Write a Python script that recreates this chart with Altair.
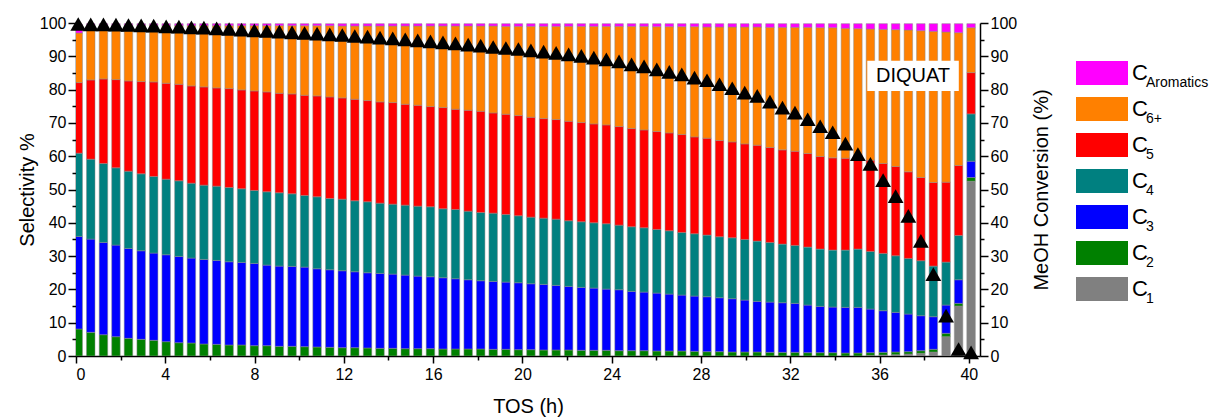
import altair as alt
import pandas as pd

FONT = "Liberation Sans"

# Time on stream of each sample (h)
tos_h = [0.10, 0.66, 1.23, 1.79, 2.35, 2.92, 3.48, 4.04, 4.61, 5.17, 5.73, 6.30,
         6.86, 7.42, 7.99, 8.55, 9.11, 9.68, 10.24, 10.80, 11.37, 11.93, 12.49, 13.06,
         13.62, 14.19, 14.75, 15.31, 15.88, 16.44, 17.00, 17.57, 18.13, 18.69, 19.26, 19.82,
         20.38, 20.95, 21.51, 22.07, 22.64, 23.20, 23.76, 24.33, 24.89, 25.45, 26.02, 26.58,
         27.14, 27.71, 28.27, 28.83, 29.40, 29.96, 30.52, 31.09, 31.65, 32.21, 32.78, 33.34,
         33.90, 34.47, 35.03, 35.59, 36.16, 36.72, 37.29, 37.85, 38.41, 38.98, 39.54, 40.10]

sel_c1 = [0, 0, 0, 0, 0, 0, 0, 0, 0, 0, 0, 0,
          0, 0, 0, 0, 0, 0, 0, 0, 0, 0, 0, 0, 0,
          0, 0, 0, 0, 0, 0, 0, 0, 0, 0, 0, 0,
          0, 0, 0, 0, 0, 0, 0, 0, 0, 0, 0, 0, 0,
          0, 0, 0, 0, 0, 0, 0, 0, 0, 0, 0,
          0, 0, 0.2, 0.3, 0.4, 0.6, 0.8, 1.2, 5.8, 15.0, 52.5]

sel_c2 = [8.1, 7.1, 6.4, 5.8, 5.3, 5.0, 4.7, 4.3, 4.0, 3.9, 3.6, 3.5,
          3.3, 3.3, 3.1, 3.1, 2.9, 2.9, 2.8, 2.7, 2.6, 2.5, 2.5, 2.4, 2.3,
          2.3, 2.2, 2.2, 2.2, 2.1, 2.1, 2.1, 2.1, 2.0, 2.0, 1.9, 1.9,
          1.8, 1.8, 1.8, 1.7, 1.7, 1.7, 1.6, 1.6, 1.6, 1.5, 1.5, 1.5, 1.4,
          1.3, 1.3, 1.2, 1.2, 1.2, 1.1, 1.1, 1.1, 1.0, 1.0, 1.0,
          0.9, 0.9, 0.8, 0.8, 0.8, 0.7, 0.8, 0.8, 1.0, 0.8, 1.1]

sel_c3 = [27.8, 28.0, 27.7, 27.5, 27.0, 26.6, 26.2, 26.1, 25.9, 25.5, 25.4, 25.2,
          25.0, 24.8, 24.7, 24.2, 24.1, 24.0, 23.9, 23.5, 23.3, 23.1, 22.8, 22.6, 22.5,
          22.3, 22.1, 21.8, 21.6, 21.4, 21.1, 20.8, 20.5, 20.4, 20.2, 20.1, 19.8,
          19.7, 19.4, 19.1, 18.9, 18.7, 18.4, 18.3, 17.8, 17.6, 17.4, 17.1, 16.8, 16.6,
          16.5, 16.2, 16.0, 15.6, 15.2, 15.1, 14.9, 14.7, 14.3, 13.9, 13.7,
          13.7, 13.7, 13.1, 12.5, 11.9, 11.3, 10.5, 9.8, 8.5, 7.1, 4.9]

sel_c4 = [25.0, 24.0, 23.7, 23.2, 23.2, 23.1, 23.0, 22.7, 22.7, 22.5, 22.3, 22.3,
          22.3, 22.1, 21.9, 22.0, 22.0, 21.8, 21.5, 21.6, 21.4, 21.5, 21.3, 21.3, 21.1,
          21.0, 21.0, 21.0, 21.0, 20.7, 20.8, 20.6, 20.5, 20.5, 20.3, 20.1, 20.0,
          19.9, 19.9, 19.7, 19.7, 19.6, 19.6, 19.4, 19.4, 19.3, 19.1, 19.0, 18.8, 18.7,
          18.5, 18.3, 18.3, 18.2, 18.1, 17.9, 17.6, 17.4, 17.4, 17.2, 17.1,
          17.2, 17.5, 17.3, 17.2, 17.0, 16.7, 16.5, 15.2, 12.9, 13.3, 14.2]

sel_c5 = [21.2, 23.8, 25.4, 26.5, 27.1, 27.7, 28.4, 28.8, 29.0, 29.2, 29.5, 29.5,
          29.7, 29.7, 29.9, 30.0, 29.9, 30.0, 30.1, 30.3, 30.5, 30.4, 30.5, 30.4, 30.4,
          30.5, 30.3, 30.3, 30.1, 30.4, 30.1, 30.3, 30.4, 30.1, 30.1, 30.1, 30.0,
          29.9, 29.9, 29.9, 29.8, 29.7, 29.7, 29.6, 29.5, 29.4, 29.4, 29.4, 29.4, 29.1,
          29.1, 28.9, 28.8, 28.7, 28.8, 28.5, 28.3, 28.3, 28.1, 27.8, 27.7,
          27.6, 28.3, 27.4, 27.0, 26.8, 26.0, 25.0, 25.1, 24.0, 21.0, 12.4]

sel_c6 = [14.9, 16.3, 16.0, 16.2, 16.6, 16.8, 16.9, 17.3, 17.6, 18.1, 18.4, 18.7,
          18.9, 19.3, 19.6, 19.9, 20.3, 20.5, 20.9, 21.1, 21.4, 21.6, 22.0, 22.4, 22.8,
          23.0, 23.5, 23.8, 24.2, 24.5, 25.0, 25.3, 25.6, 26.1, 26.4, 26.8, 27.3,
          27.7, 28.0, 28.5, 28.9, 29.3, 29.6, 30.1, 30.7, 31.1, 31.5, 31.9, 32.4, 33.1,
          33.4, 34.1, 34.5, 35.1, 35.5, 36.1, 36.8, 37.2, 37.9, 38.7, 39.1,
          39.0, 37.9, 39.4, 40.3, 41.1, 42.6, 44.1, 45.4, 45.1, 39.9, 13.5]

sel_arom = [2.6, 0.6, 0.6, 0.6, 0.6, 0.6, 0.6, 0.6, 0.6, 0.6, 0.6, 0.6,
            0.6, 0.6, 0.6, 0.6, 0.6, 0.6, 0.6, 0.6, 0.6, 0.7, 0.7, 0.7, 0.7,
            0.7, 0.7, 0.7, 0.7, 0.7, 0.7, 0.7, 0.7, 0.7, 0.8, 0.8, 0.8,
            0.8, 0.8, 0.8, 0.8, 0.8, 0.8, 0.8, 0.8, 0.8, 0.9, 0.9, 0.9, 0.9,
            1.0, 1.0, 1.0, 1.0, 1.0, 1.1, 1.1, 1.1, 1.1, 1.2, 1.2,
            1.4, 1.5, 1.6, 1.7, 1.8, 1.9, 2.1, 2.3, 2.5, 2.7, 1.2]

meoh_conversion = [99.7, 99.6, 99.6, 99.5, 99.4, 99.3, 99.2, 99.0, 98.9, 98.7, 98.6,
                   98.4, 98.2, 98.0, 97.8, 97.6, 97.4, 97.2, 97.0, 96.8, 96.6,
                   96.4, 96.1, 95.9, 95.6, 95.4, 95.1, 94.8, 94.5, 94.2, 93.9,
                   93.5, 93.2, 92.8, 92.5, 92.2, 91.8, 91.4, 91.0, 90.6, 90.1, 89.6,
                   89.1, 88.5, 87.6, 87.0, 86.1, 85.3, 84.6, 83.6, 82.8, 81.6,
                   80.4, 79.1, 78.1, 76.4, 74.6, 73.1, 71.1, 69.0, 67.2, 63.8,
                   60.6, 57.7, 52.8, 48.0, 42.1, 34.6, 24.6, 12.1, 2.1, 1.1]

components = ["C1", "C2", "C3", "C4", "C5", "C6+", "CAromatics"]
colors = ["#808080", "#008000", "#0000FF", "#008080", "#FF0000", "#FF8000", "#FF00FF"]
series = [sel_c1, sel_c2, sel_c3, sel_c4, sel_c5, sel_c6, sel_arom]

legend_keys = ["CAromatics", "C6+", "C5", "C4", "C3", "C2", "C1"]
legend_sub = ["Aromatics", "6+", "5", "4", "3", "2", "1"]

annot_box_t = [35.45, 39.55]
annot_box_v = [79.6, 88.7]
annot_text_pos = [37.5, 84.1]

rows = []
for i, t in enumerate(tos_h):
    for k, name in enumerate(components):
        rows.append({"t": t, "comp": name, "value": series[k][i], "ord": k})
df = pd.DataFrame(rows)
conv_df = pd.DataFrame({"t": tos_h, "conv": meoh_conversion})
box_df = pd.DataFrame({"x0": [annot_box_t[0]], "x1": [annot_box_t[1]],
                       "y0": [annot_box_v[0]], "y1": [annot_box_v[1]]})
txt_df = pd.DataFrame({"x": [annot_text_pos[0]], "y": [annot_text_pos[1]], "label": ["DIQUAT"]})
leg_df = pd.DataFrame({"key": legend_keys, "main": ["C"] * 7, "sub": legend_sub})

x_scale = alt.Scale(domain=[0, 40.5], nice=False, zero=False, padding=0)
y_scale = alt.Scale(domain=[0, 100], nice=False, padding=0)

x_axis = alt.Axis(values=list(range(0, 41, 2)),
                  labelExpr="datum.value % 4 === 0 ? datum.label : ''",
                  tickSize={"condition": {"test": "datum.value % 4 === 0", "value": 7}, "value": 4},
                  title="TOS (h)", grid=False, labelPadding=3, titlePadding=14)
y_left = alt.Axis(values=list(range(0, 101, 5)),
                  labelExpr="datum.value % 10 === 0 ? datum.label : ''",
                  tickSize={"condition": {"test": "datum.value % 10 === 0", "value": 8}, "value": 4},
                  title="Selectivity %", grid=False, labelPadding=2, titlePadding=2)
y_right = alt.Axis(values=list(range(0, 101, 5)), orient="right",
                   labelExpr="datum.value % 10 === 0 ? datum.label : ''",
                   tickSize={"condition": {"test": "datum.value % 10 === 0", "value": 8}, "value": 4},
                   title="MeOH Conversion (%)", titleAngle=270, titleBaseline="top", grid=False,
                   labelPadding=2, titlePadding=15)

bars = alt.Chart(df).mark_bar(width=8.5, clip=True, stroke="#8a8a8a", strokeWidth=0.5).encode(
    x=alt.X("t:Q", scale=x_scale, axis=x_axis),
    y=alt.Y("value:Q", stack="zero", scale=y_scale, axis=y_left),
    color=alt.Color("comp:N", scale=alt.Scale(domain=components, range=colors), legend=None),
    order=alt.Order("ord:Q", sort="ascending"),
)
box = alt.Chart(box_df).mark_rect(color="white").encode(
    x=alt.X("x0:Q", scale=x_scale, axis=x_axis), x2="x1",
    y=alt.Y("y0:Q", scale=y_scale, axis=y_left), y2="y1",
)
label = alt.Chart(txt_df).mark_text(font=FONT, fontSize=20, color="black").encode(
    x=alt.X("x:Q", scale=x_scale, axis=x_axis),
    y=alt.Y("y:Q", scale=y_scale, axis=y_left),
    text="label:N",
)
tri = alt.Chart(conv_df).mark_point(shape="triangle-up", filled=True, color="black",
                                     size=250, opacity=1).encode(
    x=alt.X("t:Q", scale=x_scale, axis=x_axis),
    y=alt.Y("conv:Q", scale=y_scale, axis=y_right),
)

main = alt.layer(alt.layer(bars, box, label), tri).resolve_scale(y="independent").properties(
    width=904, height=333)

leg_y = alt.Y("key:N", sort=legend_keys,
              scale=alt.Scale(type="point", domain=legend_keys, range=[50, 266], padding=0),
              axis=None)
swatch_path = "M-1,-0.46L1,-0.46L1,0.46L-1,0.46Z"
swatch = alt.Chart(leg_df).mark_point(shape=swatch_path, size=2704, filled=True, opacity=1,
                                      strokeWidth=0).encode(
    x=alt.value(38), y=leg_y,
    color=alt.Color("key:N", scale=alt.Scale(domain=components, range=colors), legend=None),
)
ctext = alt.Chart(leg_df).mark_text(font=FONT, fontSize=22, align="left", baseline="middle",
                                    color="black").encode(x=alt.value(68), y=leg_y, text="main:N")
stext = alt.Chart(leg_df).mark_text(font=FONT, fontSize=14, align="left", baseline="middle",
                                    color="black", dy=10).encode(x=alt.value(82), y=leg_y, text="sub:N")
legend = alt.layer(swatch, ctext, stext).properties(width=140, height=333)

chart = alt.hconcat(main, legend, spacing=10).properties(
    padding={"left": 16, "top": 14, "right": 0, "bottom": 0}
).configure(background="white", font=FONT).configure_view(stroke="transparent").configure_axis(
    domainColor="black", domainWidth=1.5, tickColor="black", tickWidth=1.5,
    labelColor="black", labelFont=FONT, labelFontSize=16,
    titleColor="black", titleFont=FONT, titleFontSize=20, titleFontWeight="normal",
)

chart.save("out.html", embed_options={"renderer": "svg", "actions": False})
